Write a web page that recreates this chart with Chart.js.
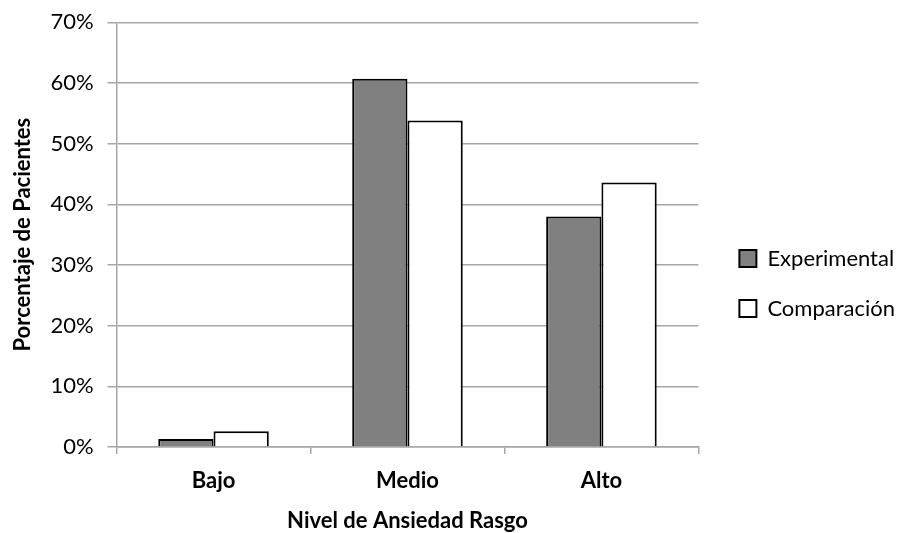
<!DOCTYPE html>
<html>
<head>
<meta charset="utf-8">
<script src="https://cdn.jsdelivr.net/npm/chart.js@4"></script>
<style>
  html, body { margin: 0; padding: 0; background: #fff; }
  #wrap { width: 909px; height: 533px; }
</style>
</head>
<body>
<div id="wrap"><canvas id="chart" width="909" height="533"></canvas></div>
<script>
const categories = ['Bajo', 'Medio', 'Alto'];
const experimental = [1.3, 60.7, 38.0];
const comparacion = [2.6, 53.8, 43.6];
const yTicks = [0, 10, 20, 30, 40, 50, 60, 70];

const FONT = 'Lato, "Liberation Sans", sans-serif';
const GRID = '#a6a6a6';
const LEGEND_GAP = 13;
const LEGEND_DY = 17;

// push the legend items a bit further from the plot than labels.padding allows
const legendGap = {
    id: 'legendGap',
    beforeLayout(chart) {
        const lg = chart.legend;
        if (!lg || lg._gapDone) return;
        const fit = lg.fit;
        lg.fit = function () { fit.call(this); this.width += LEGEND_GAP; };
        const draw = lg.draw;
        lg.draw = function () {
            this.left += LEGEND_GAP;
            this.top += LEGEND_DY;
            this.bottom += LEGEND_DY;
            draw.call(this);
            this.left -= LEGEND_GAP;
            this.top -= LEGEND_DY;
            this.bottom -= LEGEND_DY;
        };
        lg._gapDone = true;
    }
};

new Chart(document.getElementById('chart'), {
    type: 'bar',
    data: {
        labels: categories,
        datasets: [{
            label: 'Experimental',
            data: experimental,
            backgroundColor: '#808080',
            borderColor: '#000',
            borderWidth: 2,
            borderSkipped: 'bottom'
        }, {
            label: 'Comparación',
            data: comparacion,
            backgroundColor: '#fff',
            borderColor: '#000',
            borderWidth: 2,
            borderSkipped: 'bottom'
        }]
    },
    plugins: [legendGap],
    options: {
        responsive: false,
        animation: false,
        layout: { padding: { left: 10, top: 0, right: 4, bottom: 0 } },
        datasets: { bar: { categoryPercentage: 0.57, barPercentage: 1 } },
        plugins: {
            legend: {
                position: 'right',
                align: 'center',
                labels: {
                    color: '#000',
                    font: { family: FONT, size: 22 },
                    boxWidth: 17,
                    boxHeight: 17,
                    padding: 28
                }
            },
            tooltip: { enabled: false }
        },
        scales: {
            x: {
                grid: {
                    drawOnChartArea: false,
                    drawTicks: true,
                    tickLength: 7,
                    color: GRID,
                    lineWidth: 1.5
                },
                border: { color: GRID, width: 1.5 },
                ticks: {
                    color: '#000',
                    padding: 14,
                    font: { family: FONT, size: 22, weight: 'bold' }
                },
                title: {
                    display: true,
                    text: 'Nivel de Ansiedad Rasgo',
                    color: '#000',
                    padding: { top: 0, bottom: 0 },
                    font: { family: FONT, size: 22, weight: 'bold', lineHeight: 1.12 }
                }
            },
            y: {
                min: 0,
                max: 70,
                afterBuildTicks: axis => { axis.ticks = yTicks.map(v => ({ value: v })); },
                grid: {
                    color: GRID,
                    lineWidth: 1.5,
                    tickLength: 9
                },
                border: { color: GRID, width: 1.5 },
                ticks: {
                    color: '#000',
                    padding: 14,
                    font: { family: FONT, size: 22, lineHeight: 0.75 },
                    callback: v => v + '%'
                },
                title: {
                    display: true,
                    text: 'Porcentaje de Pacientes',
                    color: '#000',
                    padding: { top: 0, bottom: 0 },
                    font: { family: FONT, size: 22, weight: 'bold' }
                }
            }
        }
    }
});
</script>
</body>
</html>
